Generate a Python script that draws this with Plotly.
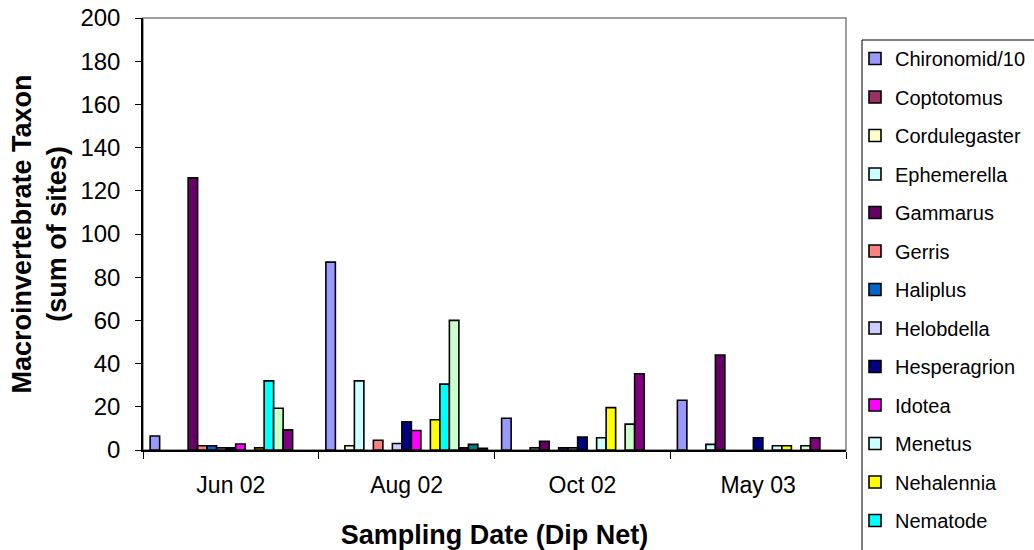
import plotly.graph_objects as go

categories = ["Jun 02", "Aug 02", "Oct 02", "May 03"]

series_names = [
    "Chironomid/10", "Coptotomus", "Cordulegaster", "Ephemerella", "Gammarus",
    "Gerris", "Haliplus", "Helobdella", "Hesperagrion", "Idotea", "Menetus",
    "Nehalennia", "Nematode", "Oligochaeta", "Physa", "Planorbella", "Sialis",
]

# values per series, in order of categories (None = not found)
chironomid = [6.5, 87, 14.7, 23]
coptotomus = [None, None, None, None]
cordulegaster = [None, 2, None, None]
ephemerella = [None, 32, 1, 2.6]
gammarus = [126, None, 4, 44]
gerris = [2, 4.5, None, None]
haliplus = [2, None, 1, None]
helobdella = [1, 3, 1, None]
hesperagrion = [1, 13, 6, 5.6]
idotea = [2.8, 9, None, None]
menetus = [None, None, 5.7, 2]
nehalennia = [1, 14, 19.6, 2]
nematode = [32, 30.5, None, None]
oligochaeta = [19.3, 60, 12, 2]
physa = [9.3, 1, 35.3, 5.6]
planorbella = [None, 2.6, None, None]
sialis = [None, 0.8, None, None]

series_values = [
    chironomid, coptotomus, cordulegaster, ephemerella, gammarus, gerris,
    haliplus, helobdella, hesperagrion, idotea, menetus, nehalennia, nematode,
    oligochaeta, physa, planorbella, sialis,
]

colors = [
    "#9999FF", "#993366", "#FFFFCC", "#CCFFFF", "#660066", "#FF8080",
    "#0066CC", "#CCCCFF", "#000080", "#FF00FF", "#CCFFFF", "#FFFF00",
    "#00FFFF", "#CCFFCC", "#800080", "#008080", "#333333",
]

y_ticks = list(range(0, 201, 20))
n_legend_items = 13

FONT = "Liberation Sans, Arial, sans-serif"

fig = go.Figure()
for i, (name, vals, col) in enumerate(zip(series_names, series_values, colors)):
    fig.add_trace(go.Bar(
        name=name,
        x=categories,
        y=vals,
        marker=dict(color=col, line=dict(color="black", width=1.6)),
        legendgroup=f"g{i}",
        showlegend=i < n_legend_items,
    ))

PLOT_W = 1034 - 143 - 188
PLOT_H = 550 - 18 - 100

fig.update_layout(
    width=1034,
    height=550,
    margin=dict(l=143, r=188, t=18, b=100, autoexpand=False),
    paper_bgcolor="white",
    plot_bgcolor="white",
    barmode="group",
    bargap=1.5 / 18.5,
    bargroupgap=0,
    font=dict(family=FONT, color="black"),
    legend=dict(
        x=(855 - 143) / PLOT_W,
        xanchor="left",
        y=(450 - 39) / PLOT_H,
        yanchor="top",
        borderwidth=0,
        bgcolor="rgba(0,0,0,0)",
        font=dict(family=FONT, size=20, color="black"),
        tracegroupgap=9.5,
        traceorder="grouped",
        maxheight=700,
    ),
    showlegend=True,
    shapes=[
        dict(type="rect", xref="paper", yref="paper", x0=0, x1=1, y0=0, y1=1,
             line=dict(color="#808080", width=1.5), layer="below"),
        dict(type="rect", xref="paper", yref="paper",
             x0=(862 - 143) / PLOT_W, x1=(1060 - 143) / PLOT_W,
             y0=(450 - 580) / PLOT_H, y1=(450 - 40) / PLOT_H,
             line=dict(color="black", width=1), fillcolor="rgba(0,0,0,0)",
             layer="below"),
    ],
)

fig.update_xaxes(
    type="category",
    showline=True, linecolor="black", linewidth=1.5,
    ticks="outside", tickson="boundaries", ticklen=7, tickcolor="black", tickwidth=1,
    tickfont=dict(family=FONT, size=23, color="black"),
    ticklabelstandoff=14,
    showgrid=False,
    title=dict(text="<b>Sampling Date (Dip Net)</b>",
               font=dict(family=FONT, size=27, color="black"), standoff=28),
)
fig.update_yaxes(
    range=[0, 200],
    tickvals=y_ticks,
    showline=True, linecolor="black", linewidth=1.5,
    ticks="outside", ticklen=6, tickcolor="black", tickwidth=1,
    tickfont=dict(family=FONT, size=24, color="black"),
    ticklabelstandoff=10,
    showgrid=False, zeroline=False,
    title=dict(text="<b>Macroinvertebrate Taxon<br>(sum of sites)</b>",
               font=dict(family=FONT, size=27, color="black"), standoff=6),
)

fig.write_html("out.html")
